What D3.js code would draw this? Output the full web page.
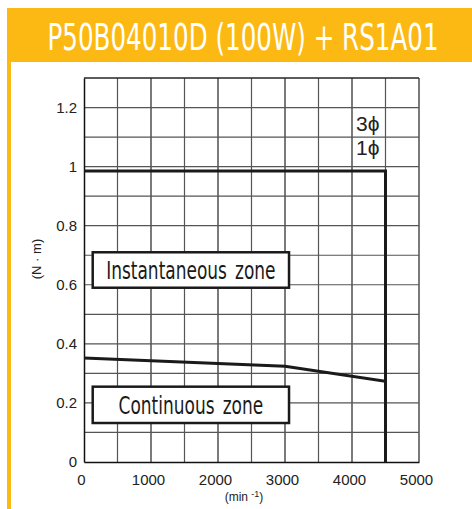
<!DOCTYPE html>
<html>
<head>
<meta charset="utf-8">
<script src="https://d3js.org/d3.v7.min.js"></script>
<style>
  body { margin: 0; background: #fff; }
  svg { display: block; }
</style>
</head>
<body>
<div id="chart"></div>
<script>
// basic dimensions
var width = 472;
var height = 509;
var margin = { top: 78, right: 53, bottom: 47, left: 84 };

// data
var title = "P50B04010D (100W) + RS1A01";
var xTicks = [0, 1000, 2000, 3000, 4000, 5000];
var yTicks = [0, 0.2, 0.4, 0.6, 0.8, 1, 1.2];
var instantSpeed = [0, 4500, 4500];
var instantTorque = [0.985, 0.985, 0];
var contSpeed = [0, 3000, 4500, 4500];
var contTorque = [0.352, 0.324, 0.273, 0];
var zoneNames = ["Instantaneous zone", "Continuous zone"];
var zoneTop = [0.71, 0.255];
var zoneBottom = [0.59, 0.132];
var zoneLeft = [130, 130];
var zoneRight = [3060, 3060];

var orange = "#fdb913";

var svg = d3.select("#chart")
    .append("svg")
    .attr("width", width)
    .attr("height", height);

// header band and left border
svg.append("rect")
    .attr("x", 7).attr("y", 8)
    .attr("width", width - 7).attr("height", 54)
    .attr("fill", orange);
svg.append("rect")
    .attr("x", 7).attr("y", 60)
    .attr("width", 4).attr("height", height - 60)
    .attr("fill", orange);

svg.append("text")
    .attr("x", 0).attr("y", 0)
    .attr("transform", "translate(243,50) scale(0.665,1)")
    .attr("text-anchor", "middle")
    .attr("fill", "#fff")
    .style("font", "37px 'DejaVu Sans'")
    .text(title);

var w = width - margin.left - margin.right;
var h = height - margin.top - margin.bottom;

var xScale = d3.scaleLinear().domain([0, 5000]).range([0, w]);
var yScale = d3.scaleLinear().domain([0, 1.3]).range([h, 0]);

var g = svg.append("g")
    .attr("transform", "translate(" + margin.left + "," + margin.top + ")");

// grid
g.selectAll(".vgrid")
    .data(d3.range(500, 5001, 500))
    .enter().append("line")
    .attr("class", "vgrid")
    .attr("x1", function(d) { return xScale(d); })
    .attr("x2", function(d) { return xScale(d); })
    .attr("y1", 0).attr("y2", h)
    .attr("stroke", function(d, i) { return i % 2 ? "#222" : "#555"; })
    .attr("stroke-width", 1.2);

g.selectAll(".hgrid")
    .data(d3.range(1, 14).map(function(d) { return d / 10; }))
    .enter().append("line")
    .attr("class", "hgrid")
    .attr("x1", 0).attr("x2", w)
    .attr("y1", function(d) { return yScale(d); })
    .attr("y2", function(d) { return yScale(d); })
    .attr("stroke", "#555")
    .attr("stroke-width", 1.2);

// axes
var xAxis = g.append("g")
    .attr("transform", "translate(0," + h + ")")
    .call(d3.axisBottom(xScale).tickValues(xTicks).tickSize(0).tickPadding(12).tickFormat(d3.format("d")));
var yAxis = g.append("g")
    .call(d3.axisLeft(yScale).tickValues(yTicks).tickSize(0).tickPadding(7).tickFormat(function(d) { return d; }));

[xAxis, yAxis].forEach(function(a) {
    a.select(".domain").attr("stroke", "#111").attr("stroke-width", 1.5);
    a.selectAll("text")
        .style("font", "15px 'Liberation Sans'")
        .attr("fill", "#222");
});
xAxis.selectAll("text").attr("dx", "-0.2em");

g.append("line")
    .attr("x1", 0).attr("x2", w).attr("y1", 0).attr("y2", 0)
    .attr("stroke", "#111").attr("stroke-width", 1.2);

// curves
var lineGen = d3.line()
    .x(function(d) { return xScale(d[0]); })
    .y(function(d) { return yScale(d[1]); });

g.append("path")
    .attr("d", lineGen(d3.zip(instantSpeed, instantTorque)))
    .attr("fill", "none")
    .attr("stroke", "#1a1a1a")
    .attr("stroke-width", 3);

g.append("path")
    .attr("d", lineGen(d3.zip(contSpeed, contTorque)))
    .attr("fill", "none")
    .attr("stroke", "#1a1a1a")
    .attr("stroke-width", 3);

// zone labels
zoneNames.forEach(function(name, i) {
    var x0 = xScale(zoneLeft[i]), x1 = xScale(zoneRight[i]);
    var y0 = yScale(zoneTop[i]), y1 = yScale(zoneBottom[i]);
    g.append("rect")
        .attr("x", x0).attr("y", y0)
        .attr("width", x1 - x0).attr("height", y1 - y0)
        .attr("fill", "#fff")
        .attr("stroke", "#1a1a1a")
        .attr("stroke-width", 2.5);
    g.append("text")
        .attr("transform", "translate(" + ((x0 + x1) / 2) + "," + ((y0 + y1) / 2 + 9) + ") scale(0.68,1)")
        .attr("text-anchor", "middle")
        .attr("fill", "#1a1a1a")
        .attr("word-spacing", 4)
        .style("font", "25px 'DejaVu Sans'")
        .text(name);
});

// phase labels
var phases = ["3\u03d5", "1\u03d5"];
var phaseY = [1.12, 1.04];
phases.forEach(function(p, i) {
    g.append("text")
        .attr("x", xScale(4060))
        .attr("y", yScale(phaseY[i]))
        .attr("fill", "#222")
        .style("font", "21px 'Liberation Sans'")
        .text(p);
});

// axis titles
svg.append("text")
    .attr("transform", "translate(41,259) rotate(-90)")
    .attr("text-anchor", "middle")
    .attr("fill", "#222")
    .style("font", "13px 'Liberation Sans'")
    .text("(N \u00b7 m)");

var xt = svg.append("text")
    .attr("x", 244).attr("y", 501)
    .attr("text-anchor", "middle")
    .attr("fill", "#222")
    .style("font", "12px 'Liberation Sans'");
xt.append("tspan").text("(min ");
xt.append("tspan").attr("dy", -4).style("font-size", "9px").text("-1");
xt.append("tspan").attr("dy", 4).text(")");
</script>
</body>
</html>
